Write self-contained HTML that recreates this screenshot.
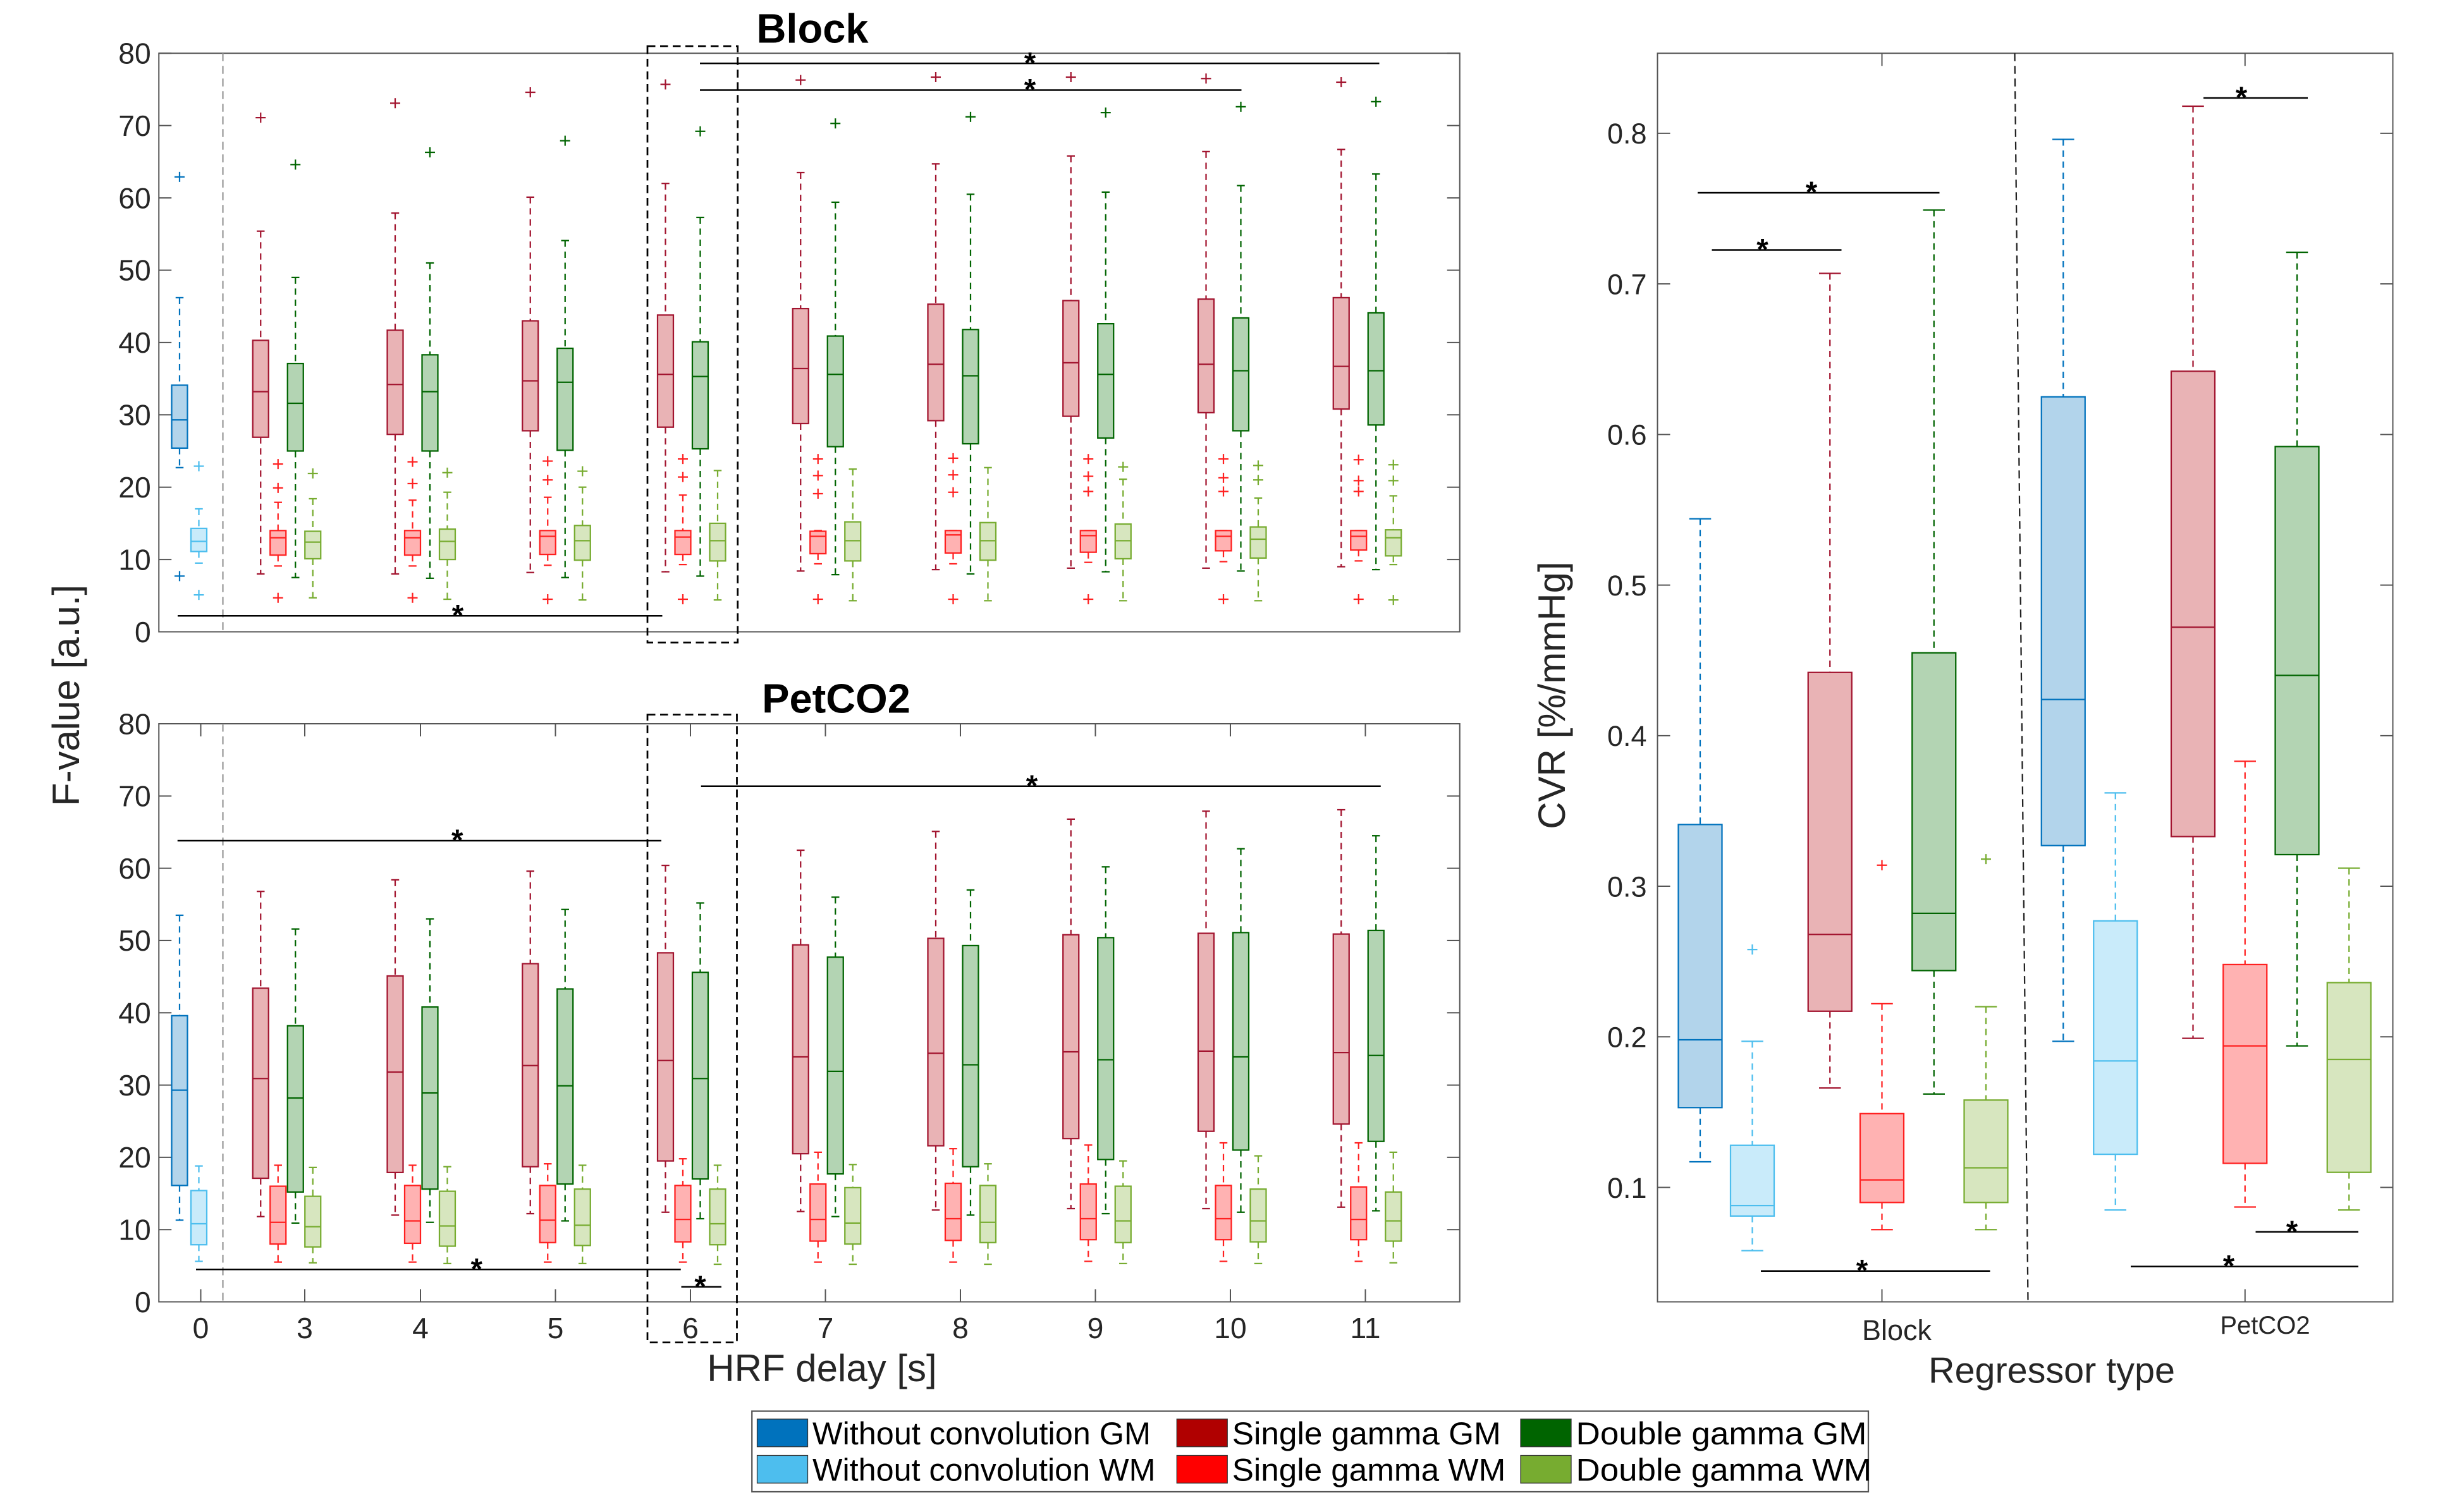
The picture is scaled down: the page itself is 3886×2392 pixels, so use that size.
<!DOCTYPE html>
<html><head><meta charset="utf-8"><style>
html,body{margin:0;padding:0;background:#fff;}
svg{display:block;font-family:"Liberation Sans",Arial,sans-serif;}
</style></head><body>
<svg id="fig" width="3886" height="2392" viewBox="0 0 1554.4 956.8" xmlns="http://www.w3.org/2000/svg"></svg>
<script>
// ---------- data ----------
const hrfCats = ['0','3','4','5','6','7','8','9','10','11'];
const fTicks = [0,10,20,30,40,50,60,70,80];
const cvrTicks = [0.1,0.2,0.3,0.4,0.5,0.6,0.7,0.8];
const regCats = ['Block','PetCO2'];
// [low whisker, q1, median, q3, high whisker]
const blockNoConvGM = [22.7,25.4,29.3,34.1,46.2];
const blockNoConvGMOut = [62.9,7.7];
const blockNoConvWM = [9.5,11.1,12.5,14.3,17.0];
const blockNoConvWMOut = [22.9,5.1];
const blockSingleGM = [[8.0,26.9,33.2,40.3,55.4],[8.0,27.3,34.2,41.7,57.9],[8.2,27.8,34.7,43.0,60.1],[8.3,28.3,35.6,43.8,62.0],[8.4,28.8,36.4,44.7,63.5],[8.6,29.2,37.0,45.3,64.7],[8.8,29.8,37.2,45.8,65.8],[8.8,30.3,37.0,46.0,66.4],[9.0,30.8,36.7,46.2,66.7]];
const blockSingleGMOut = [[71.1],[73.1],[74.6],[75.7],[76.3],[76.7],[76.7],[76.5],[76.0]];
const blockSingleWM = [[9.1,10.6,13.0,14.0,17.9],[9.1,10.6,13.0,14.0,18.2],[9.2,10.7,13.2,14.0,18.6],[9.3,10.7,13.1,14.0,18.9],[9.4,10.8,13.2,13.9,14.0],[9.4,10.9,13.4,14.0,14.0],[9.6,11.0,13.3,14.0,14.0],[9.7,11.2,13.2,14.0,14.0],[9.8,11.3,13.2,14.0,14.0]];
const blockSingleWMOut = [[23.2,19.9,4.7],[23.5,20.5,4.7],[23.6,21.0,4.5],[23.9,21.4,4.5],[23.9,21.6,19.1,4.5],[24.0,21.7,19.3,4.5],[23.9,21.5,19.4,4.5],[23.9,21.3,19.4,4.5],[23.8,20.9,19.4,4.5]];
const blockDoubleGM = [[7.5,25.0,31.6,37.1,49.0],[7.4,25.0,33.2,38.3,51.0],[7.5,25.1,34.5,39.2,54.1],[7.7,25.3,35.3,40.1,57.3],[7.9,25.6,35.6,40.9,59.4],[8.0,26.0,35.4,41.8,60.5],[8.3,26.8,35.6,42.6,60.8],[8.4,27.8,36.1,43.4,61.7],[8.6,28.6,36.1,44.1,63.3]];
const blockDoubleGMOut = [[64.6],[66.3],[67.9],[69.2],[70.3],[71.2],[71.8],[72.6],[73.3]];
const blockDoubleWM = [[4.7,10.1,12.4,13.9,18.4],[4.5,10.0,12.5,14.2,19.3],[4.4,9.9,12.6,14.7,20.0],[4.4,9.8,12.6,15.0,22.3],[4.3,9.8,12.6,15.2,22.5],[4.3,9.9,12.6,15.1,22.7],[4.3,10.1,12.6,14.9,21.1],[4.3,10.2,12.8,14.5,18.5],[9.3,10.5,13.0,14.1,18.8]];
const blockDoubleWMOut = [[21.9],[22.0],[22.2],[],[],[],[22.8],[23.0,21.0],[23.1,20.9,4.4]];
const petNoConvGM = [11.3,16.1,29.3,39.6,53.5];
const petNoConvWM = [5.6,7.9,10.8,15.4,18.8];
const petSingleGM = [[11.8,17.1,30.9,43.4,56.8],[12.0,17.9,31.8,45.1,58.4],[12.2,18.7,32.7,46.8,59.6],[12.4,19.5,33.4,48.3,60.4],[12.5,20.5,33.9,49.4,62.5],[12.7,21.6,34.4,50.3,65.1],[12.9,22.6,34.6,50.8,66.8],[12.9,23.6,34.7,51.0,67.9],[13.1,24.6,34.5,50.9,68.1]];
const petSingleWM = [[5.5,8.0,11.0,16.0,18.9],[5.5,8.1,11.2,16.1,18.9],[5.5,8.2,11.3,16.1,19.1],[5.5,8.3,11.4,16.1,19.8],[5.5,8.4,11.4,16.3,20.7],[5.5,8.5,11.5,16.4,21.2],[5.6,8.6,11.5,16.3,21.7],[5.6,8.6,11.5,16.1,22.0],[5.6,8.6,11.4,15.9,22.0]];
const petDoubleGM = [[10.9,15.2,28.2,38.2,51.6],[11.0,15.6,28.9,40.8,53.0],[11.2,16.3,29.9,43.3,54.3],[11.5,17.0,30.9,45.6,55.2],[11.8,17.7,31.9,47.7,56.0],[12.0,18.7,32.8,49.3,57.0],[12.2,19.7,33.5,50.4,60.2],[12.4,21.0,33.9,51.1,62.7],[12.6,22.2,34.1,51.4,64.5]];
const petDoubleWM = [[5.4,7.6,10.4,14.6,18.6],[5.3,7.7,10.5,15.3,18.7],[5.3,7.8,10.6,15.6,18.9],[5.2,7.9,10.8,15.6,18.9],[5.2,8.0,10.9,15.8,19.0],[5.2,8.2,11.0,16.1,19.1],[5.3,8.2,11.2,16.0,19.5],[5.3,8.3,11.2,15.6,20.2],[5.4,8.4,11.2,15.2,20.7]];
const cvrBlock = [[0.117,0.153,0.198,0.341,0.544],[0.058,0.081,0.088,0.128,0.197],[0.166,0.217,0.268,0.442,0.707],[0.072,0.090,0.105,0.149,0.222],[0.162,0.244,0.282,0.455,0.749],[0.072,0.090,0.113,0.158,0.220]];
const cvrBlockOut = [[],[0.258],[],[0.314],[],[0.318]];
const cvrPet = [[0.197,0.327,0.424,0.625,0.796],[0.085,0.122,0.184,0.277,0.362],[0.199,0.333,0.472,0.642,0.818],[0.087,0.116,0.194,0.248,0.383],[0.194,0.321,0.440,0.592,0.721],[0.085,0.110,0.185,0.236,0.312]];
const cvrPetOut = [[],[],[],[],[],[]];
const legendLabels = ['Without convolution GM','Without convolution WM','Single gamma GM','Single gamma WM','Double gamma GM','Double gamma WM'];

// ---------- layout ----------
const NS='http://www.w3.org/2000/svg';
const svg=document.getElementById('fig');
const edge=['#0072BD','#4DBEEE','#A2142F','#FF2020','#006400','#77AC30'];
const fill=['#b2d4eb','#c9ebfa','#e9b3b5','#ffb2b2','#b3d4b3','#d7e6bf'];
const legendCol=['#0072BD','#4DBEEE','#B00000','#FF0000','#006400','#77AC30'];
function mk(tag,attrs,parent){const e=document.createElementNS(NS,tag);for(const k in attrs)e.setAttribute(k,attrs[k]);(parent||svg).appendChild(e);return e;}
function txt(s,attrs,parent){const e=mk('text',attrs,parent);e.textContent=s;return e;}

const L={x0:100.5,x1:923.5};
const topP={y0:399.8,y80:33.7}, botP={y0:823.8,y80:458};
const yTop=v=>topP.y0-(topP.y0-topP.y80)*v/80;
const yBot=v=>botP.y0-(botP.y0-botP.y80)*v/80;
const groupX=[119.7,181.4,266.5,352,437.5,523,608.5,694,779.5,865];
const tickX=[127,192.8,266,351.4,436.8,522.2,607.6,693,778.4,863.8];
const off4=[-16.5,-5.5,5.5,16.5];
const R={x0:1048.6,x1:1513.8,y0:33.7,y1:823.8};
const cvrY=v=>751.4-(v-0.1)*952.9;
const regX=[1190.6,1420.3];
const off6=[-115,-82,-32.9,0,32.9,65.8];

function drawBox(g,x,w,s,si,ys,name){
  const grp=mk('g',{},g);
  
  
  const lw=0.9, cw=w*0.5;
  mk('line',{x1:x,x2:x,y1:ys(s[4]),y2:ys(s[3]),stroke:edge[si],'stroke-width':lw,'stroke-dasharray':'4 3'},grp);
  mk('line',{x1:x,x2:x,y1:ys(s[1]),y2:ys(s[0]),stroke:edge[si],'stroke-width':lw,'stroke-dasharray':'4 3'},grp);
  mk('line',{x1:x-cw/2,x2:x+cw/2,y1:ys(s[4]),y2:ys(s[4]),stroke:edge[si],'stroke-width':lw},grp);
  mk('line',{x1:x-cw/2,x2:x+cw/2,y1:ys(s[0]),y2:ys(s[0]),stroke:edge[si],'stroke-width':lw},grp);
  mk('rect',{x:x-w/2,y:ys(s[3]),width:w,height:ys(s[1])-ys(s[3]),fill:fill[si],stroke:edge[si],'stroke-width':lw},grp);
  mk('line',{x1:x-w/2,x2:x+w/2,y1:ys(s[2]),y2:ys(s[2]),stroke:edge[si],'stroke-width':lw},grp);
}
function drawOut(g,x,vals,si,ys){
  vals.forEach(v=>{const y=ys(v);
    const p=mk('path',{d:`M${x-3.2},${y}H${x+3.2}M${x},${y-3.2}V${y+3.2}`,stroke:edge[si],'stroke-width':0.9,fill:'none'},g);
    
    
  });
}
function sig(g,x1,x2,y,sx){
  mk('line',{x1:x1,x2:x2,y1:y,y2:y,stroke:'#000','stroke-width':1},g);
  const t=txt('*',{x:(sx===undefined?(x1+x2)/2:sx),y:y+6,'text-anchor':'middle','font-size':19,'font-weight':'bold'},g);
  
  
}

function leftPanel(name,ys,P,noGM,noWM,sGM,sWM,dGM,dWM,outs,title,titleX,titleY,showX){
  const g=mk('g',{});
  
  
  mk('rect',{x:L.x0,y:P.y80,width:L.x1-L.x0,height:P.y0-P.y80,fill:'none',stroke:'#555','stroke-width':0.8},g);
  fTicks.forEach(v=>{const y=ys(v);
    mk('line',{x1:L.x0,x2:L.x0+8,y1:y,y2:y,stroke:'#555','stroke-width':0.8},g);
    mk('line',{x1:L.x1-8,x2:L.x1,y1:y,y2:y,stroke:'#555','stroke-width':0.8},g);
    const t=txt(String(v),{x:95.5,y:y+6.5,'text-anchor':'end','font-size':18.5,fill:'#262626'},g);
    
    
  });
  if(showX){
    hrfCats.forEach((c,i)=>{
      mk('line',{x1:tickX[i],x2:tickX[i],y1:P.y0,y2:P.y0-8,stroke:'#555','stroke-width':0.8},g);
      mk('line',{x1:tickX[i],x2:tickX[i],y1:P.y80,y2:P.y80+8,stroke:'#555','stroke-width':0.8},g);
      const t=txt(c,{x:tickX[i],y:P.y0+23,'text-anchor':'middle','font-size':18.5,fill:'#262626'},g);
      
      
    });
  }
  mk('line',{x1:141,x2:141,y1:P.y80,y2:P.y0,stroke:'#999','stroke-width':0.9,'stroke-dasharray':'5 3'},g);
  const tt=txt(title,{x:titleX,y:titleY,'text-anchor':'middle','font-size':26,'font-weight':'bold'},g);
  
  
  drawBox(g,groupX[0]-6.1,10,noGM,0,ys,'box-noconv-gm');
  drawBox(g,groupX[0]+6.1,10,noWM,1,ys,'box-noconv-wm');
  if(outs){drawOut(g,groupX[0]-6.1,outs.noGM,0,ys);drawOut(g,groupX[0]+6.1,outs.noWM,1,ys);}
  const ser=[sGM,sWM,dGM,dWM], si=[2,3,4,5], nm=['single-gm','single-wm','double-gm','double-wm'];
  for(let i=1;i<hrfCats.length;i++){
    ser.forEach((arr,k)=>{
      const x=groupX[i]+off4[k];
      drawBox(g,x,10,arr[i-1],si[k],ys,'box-'+nm[k]+'-'+hrfCats[i]);
      if(outs) drawOut(g,x,outs.s[k][i-1],si[k],ys);
    });
  }
  return g;
}

const gTop=leftPanel('block-fvalue-panel',yTop,topP,blockNoConvGM,blockNoConvWM,blockSingleGM,blockSingleWM,blockDoubleGM,blockDoubleWM,
  {noGM:blockNoConvGMOut,noWM:blockNoConvWMOut,s:[blockSingleGMOut,blockSingleWMOut,blockDoubleGMOut,blockDoubleWMOut]},'Block',514,27,false);
sig(gTop,442.8,872.6,40.1,651.6);
sig(gTop,442.8,785.4,57,651.6);
sig(gTop,112.4,419,389.7,289.6);
mk('rect',{x:409.6,y:29.2,width:57.1,height:377.4,fill:'none',stroke:'#000','stroke-width':1.1,'stroke-dasharray':'5 3'},gTop);

const gBot=leftPanel('petco2-fvalue-panel',yBot,botP,petNoConvGM,petNoConvWM,petSingleGM,petSingleWM,petDoubleGM,petDoubleWM,null,'PetCO2',529,451,true);
sig(gBot,112.3,418.4,532,289.3);
sig(gBot,443.5,873.5,497.5,652.8);
sig(gBot,124,430.7,803.3,301.5);
sig(gBot,431,456.4,814.3,443);
mk('rect',{x:409.6,y:452.2,width:56.6,height:397.3,fill:'none',stroke:'#000','stroke-width':1.1,'stroke-dasharray':'5 3'},gBot);

let t=txt('F-value [a.u.]',{x:0,y:0,transform:'translate(50,440) rotate(-90)','text-anchor':'middle','font-size':24,fill:'#262626'});


t=txt('HRF delay [s]',{x:520,y:874,'text-anchor':'middle','font-size':24,fill:'#262626'});



// ---------- right panel ----------
const gR=mk('g',{});


mk('rect',{x:R.x0,y:R.y0,width:R.x1-R.x0,height:R.y1-R.y0,fill:'none',stroke:'#555','stroke-width':0.8},gR);
cvrTicks.forEach(v=>{const y=cvrY(v);
  mk('line',{x1:R.x0,x2:R.x0+8,y1:y,y2:y,stroke:'#555','stroke-width':0.8},gR);
  mk('line',{x1:R.x1-8,x2:R.x1,y1:y,y2:y,stroke:'#555','stroke-width':0.8},gR);
  const l=txt(v.toFixed(1),{x:1041.8,y:y+6.5,'text-anchor':'end','font-size':18,fill:'#262626'},gR);
  
  
});
regCats.forEach((c,i)=>{
  mk('line',{x1:regX[i],x2:regX[i],y1:R.y1,y2:R.y1-8,stroke:'#555','stroke-width':0.8},gR);
  mk('line',{x1:regX[i],x2:regX[i],y1:R.y0,y2:R.y0+8,stroke:'#555','stroke-width':0.8},gR);
});
t=txt('Block',{x:1200,y:848,'text-anchor':'middle','font-size':18,fill:'#262626'},gR);


t=txt('PetCO2',{x:1433,y:844,'text-anchor':'middle','font-size':16,fill:'#262626'},gR);


mk('line',{x1:1274.6,y1:R.y0,x2:1283,y2:R.y1,stroke:'#222','stroke-width':0.9,'stroke-dasharray':'5 3'},gR);
[cvrBlock,cvrPet].forEach((arr,ci)=>{
  const outs=ci===0?cvrBlockOut:cvrPetOut;
  arr.forEach((s,k)=>{
    const x=regX[ci]+off6[k];
    drawBox(gR,x,27.6,s,k,cvrY,'cvr-box-'+regCats[ci].toLowerCase()+'-'+k);
    drawOut(gR,x,outs[k],k,cvrY);
  });
});
sig(gR,1074,1227,cvrY(0.7605),1146);
sig(gR,1083,1165,cvrY(0.7225),1115);
sig(gR,1114,1259,cvrY(0.0445),1178);
sig(gR,1394,1460,cvrY(0.8235),1418);
sig(gR,1427,1492,cvrY(0.0705),1450);
sig(gR,1348,1492,cvrY(0.0475),1410);
t=txt('CVR [%/mmHg]',{x:0,y:0,transform:'translate(990,440) rotate(-90)','text-anchor':'middle','font-size':24,fill:'#262626'});


t=txt('Regressor type',{x:1298,y:875,'text-anchor':'middle','font-size':23,fill:'#262626'});



// ---------- legend ----------
const gL=mk('g',{});


mk('rect',{x:475.7,y:893,width:706.3,height:51,fill:'#fff',stroke:'#555','stroke-width':0.9},gL);
const colX=[479,744.5,962], rowY=[898,921], textW=[214,170,184];
legendLabels.forEach((lab,i)=>{
  const c=Math.floor(i/2), r=i%2;
  const e=mk('g',{},gL);
  
  
  mk('rect',{x:colX[c],y:rowY[r],width:32,height:17.5,fill:legendCol[i],stroke:'#333','stroke-width':0.5},e);
  txt(lab,{x:colX[c]+35,y:rowY[r]+16,'font-size':20,fill:'#000',textLength:(r===1?textW[c]+3:textW[c]),lengthAdjust:'spacingAndGlyphs'},e);
});
</script>
</body></html>
